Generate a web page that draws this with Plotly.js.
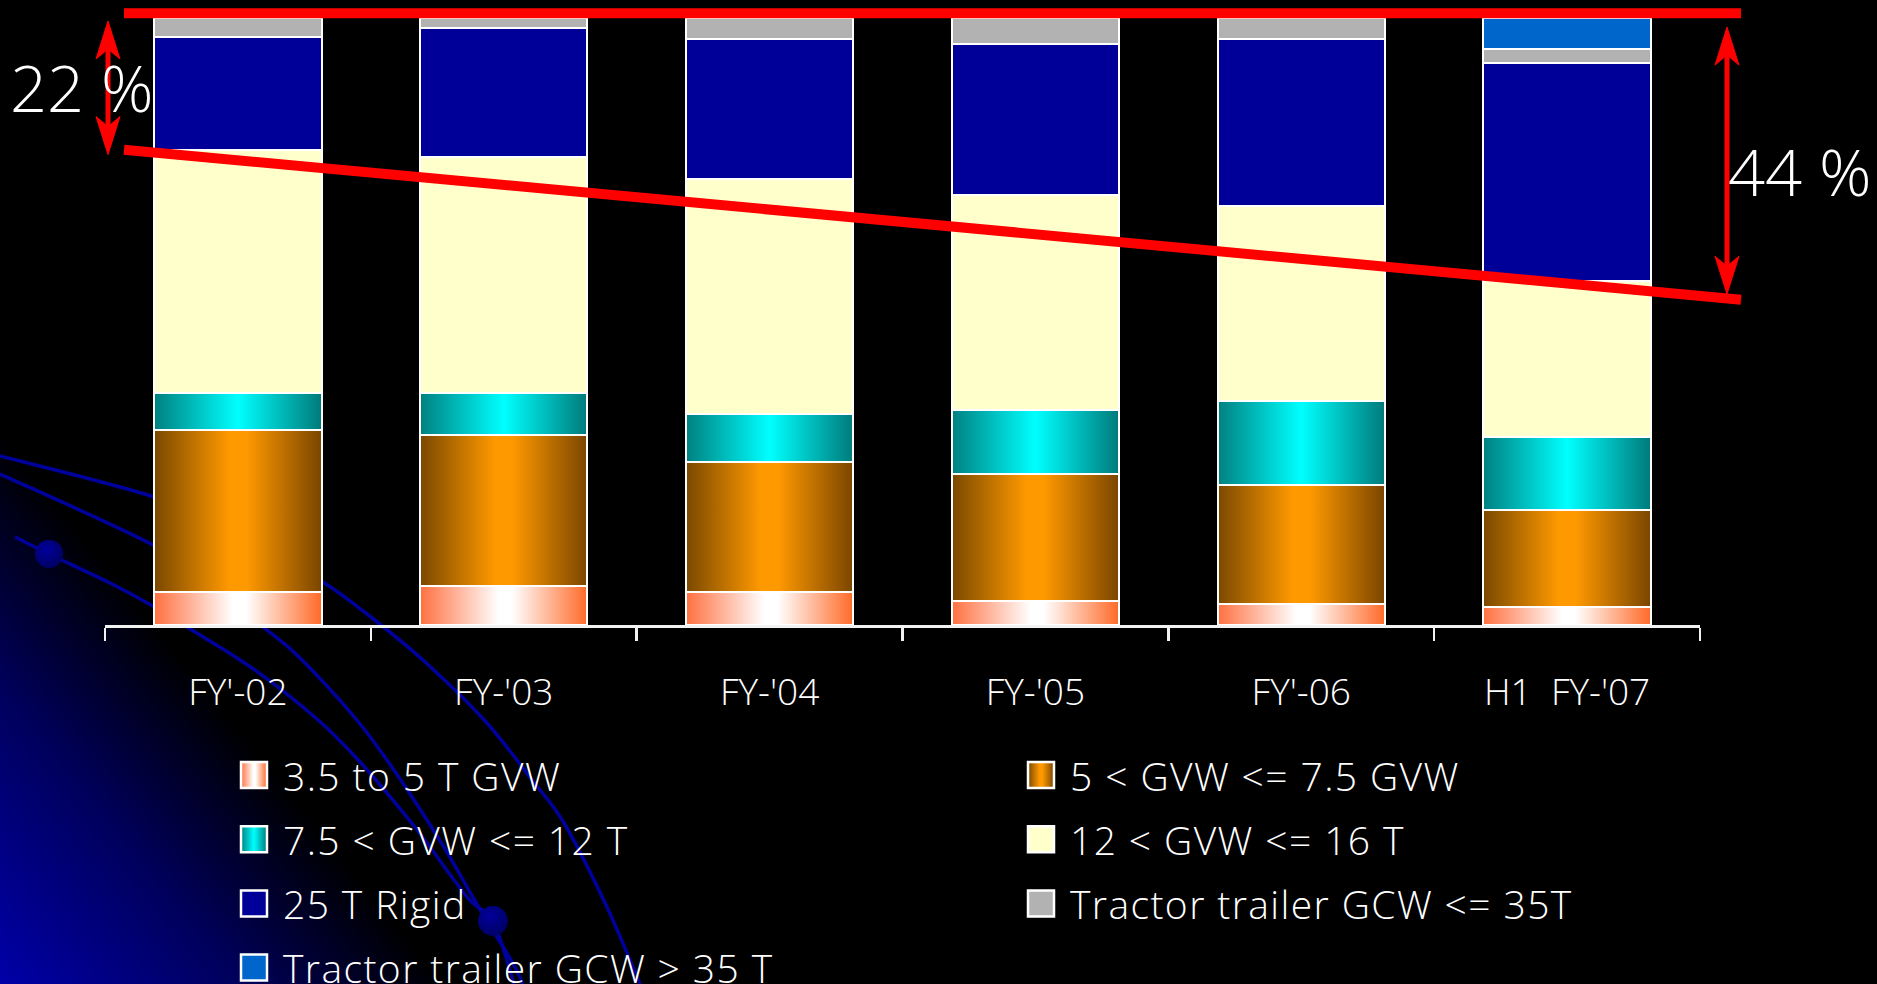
<!DOCTYPE html>
<html>
<head>
<meta charset="utf-8">
<script src="https://cdn.plot.ly/plotly-3.0.1.min.js"></script>
<style>
  html, body { margin: 0; padding: 0; background: #000; overflow: hidden; }
  #stage { position: relative; width: 1877px; height: 984px; }
  #backdrop { position: absolute; left: 0; top: 0; }
  #chart { position: absolute; left: 0; top: 0; width: 1877px; height: 984px; }
</style>
</head>
<body>
<div id="stage">
  <svg id="backdrop" width="1877" height="984" xmlns="http://www.w3.org/2000/svg">
    <defs>
      <linearGradient id="cornerGlow" gradientUnits="userSpaceOnUse" x1="0" y1="984" x2="270" y2="766">
        <stop offset="0" stop-color="#0000a8"/>
        <stop offset="0.55" stop-color="#00005a"/>
        <stop offset="1" stop-color="#000000"/>
      </linearGradient>
      <radialGradient id="dotFill" cx="0.4" cy="0.35" r="0.7">
        <stop offset="0" stop-color="#00009c"/>
        <stop offset="1" stop-color="#000060"/>
      </radialGradient>
    </defs>
    <rect width="1877" height="984" fill="url(#cornerGlow)"/>
    <g id="arcs" fill="none" stroke="#00009c" stroke-width="3.5"></g>
    <g id="dots" fill="url(#dotFill)"></g>
  </svg>
  <div id="chart"></div>
</div>
<script>
// ---- data -----------------------------------------------------------
const categories = ["FY'-02", "FY-'03", "FY-'04", "FY-'05", "FY'-06", "H1\u00a0 FY-'07"];

const seriesNames = [
  "3.5 to 5 T GVW",
  "5 < GVW <= 7.5 GVW",
  "7.5 < GVW <= 12 T",
  "12 < GVW <= 16 T",
  "25 T Rigid",
  "Tractor trailer GCW <= 35T",
  "Tractor trailer GCW > 35 T"
];

// share of sales, % of each year's total
const gvw35to5     = [5.5, 6.4, 5.5, 3.9, 3.5, 3.0];
const gvw5to75     = [26.6, 24.9, 21.4, 20.9, 19.6, 16.0];
const gvw75to12    = [6.1, 6.9, 7.8, 10.7, 13.8, 12.0];
const gvw12to16    = [40.1, 38.9, 38.8, 35.3, 32.2, 25.6];
const rigid25      = [18.6, 21.2, 23.1, 24.9, 27.4, 36.0];
const tractorLe35  = [3.1, 1.7, 3.4, 4.3, 3.5, 2.3];
const tractorGt35  = [0, 0, 0, 0, 0, 5.1];

// heavy-segment share called out on the left and right
const shareLabels = ["22 %", "44 %"];
const shareValues = [22, 44];

// ---- styling ----------------------------------------------------------
const seriesValues = [gvw35to5, gvw5to75, gvw75to12, gvw12to16, rigid25, tractorLe35, tractorGt35];
const fills = [
  { solid: '#FF8050', stops: [[0, '#FF7040'], [0.47, '#FFFFFF'], [0.55, '#FFFFFF'], [1, '#FF6A28']] },
  { solid: '#FF9900', stops: [[0, '#7A4800'], [0.45, '#FF9900'], [0.55, '#FF9900'], [1, '#7A4500']] },
  { solid: '#00FFFF', stops: [[0, '#008080'], [0.5, '#00FFFF'], [1, '#007A7A']] },
  { solid: '#FFFFCC' },
  { solid: '#000099' },
  { solid: '#B2B2B2' },
  { solid: '#0066CC' }
];

const FONT = '"Open Sans", "Liberation Sans", Arial, sans-serif';
const W = 1877, H = 984;
const M = { l: 105, r: 177, t: 18, b: 359 };
const PW = W - M.l - M.r;   // plot width in px
const PH = H - M.t - M.b;   // plot height in px
const Y_RANGE = [0, 100];

// pixel helpers for page decorations (paper coordinates)
const px2x = px => (px - M.l) / PW;
const px2y = py => (H - M.b - py) / PH;
const val2y = v => (v - Y_RANGE[0]) / (Y_RANGE[1] - Y_RANGE[0]);

// ---- traces -----------------------------------------------------------
const traces = seriesValues.map((vals, i) => ({
  type: 'bar',
  name: seriesNames[i],
  x: categories,
  y: vals,
  marker: { color: fills[i].solid, line: { color: '#FFFFFF', width: 2 } },
  hoverinfo: 'skip',
  showlegend: false
}));

// ---- red guide lines and arrows --------------------------------------
const RED = '#FF0000';
const shapes = [];

shapes.push({ type: 'line', xref: 'paper', yref: 'paper',
  x0: px2x(124), x1: px2x(1741), y0: val2y(100.8), y1: val2y(100.8),
  line: { color: RED, width: 10 } });

shapes.push({ type: 'line', xref: 'paper', yref: 'paper',
  x0: px2x(124), x1: px2x(1741), y0: val2y(100 - shareValues[0] + 0.3), y1: val2y(100 - shareValues[1] - 2.4),
  line: { color: RED, width: 10 } });

function doubleArrow(xPx, vTop, vBot) {
  const x = px2x(xPx);
  const yT = val2y(vTop), yB = val2y(vBot);
  const hw = 12 / PW, hl = 38 / PH, notch = 28 / PH;
  shapes.push({ type: 'line', xref: 'paper', yref: 'paper',
    x0: x, x1: x, y0: yT - notch, y1: yB + notch, line: { color: RED, width: 5 } });
  const head = (tip, dir) =>
    `M${x},${tip} L${x + hw},${tip - dir * hl} L${x},${tip - dir * notch} L${x - hw},${tip - dir * hl} Z`;
  [head(yT, 1), head(yB, -1)].forEach(p => shapes.push({
    type: 'path', xref: 'paper', yref: 'paper', path: p,
    fillcolor: RED, line: { color: RED, width: 1 } }));
}
doubleArrow(108, 99.5, 99.5 - shareValues[0]);
doubleArrow(1727, 98.5, 98.5 - shareValues[1]);

// ---- legend (two columns, filled row by row) ------------------------
const annotations = [];
const swatchShape = {};
const esc = s => s.replace(/&/g, '&amp;').replace(/</g, '&lt;').replace(/>/g, '&gt;');
seriesNames.forEach((name, i) => {
  const col = i % 2, row = Math.floor(i / 2);
  const sx = col === 0 ? 254 : 1041;
  const tx = col === 0 ? 281 : 1068;
  const cy = 775 + row * 64.2;
  swatchShape[i] = shapes.length;
  shapes.push({ type: 'rect', xref: 'paper', yref: 'paper',
    x0: px2x(sx - 13), x1: px2x(sx + 13), y0: px2y(cy + 13), y1: px2y(cy - 13),
    fillcolor: fills[i].solid, line: { color: '#FFFFFF', width: 2.5 } });
  annotations.push({ xref: 'paper', yref: 'paper', x: px2x(tx), y: px2y(cy),
    xanchor: 'left', yanchor: 'middle', showarrow: false, text: esc(name),
    font: { family: FONT, size: 39, color: '#FFFFFF', weight: 300 } });
});
const LEGEND_COUNT = seriesNames.length;

annotations.push({ xref: 'paper', yref: 'paper', x: px2x(8), y: px2y(87),
  xanchor: 'left', yanchor: 'middle', showarrow: false, text: shareLabels[0],
  font: { family: FONT, size: 65, color: '#FFFFFF', weight: 300 } });
annotations.push({ xref: 'paper', yref: 'paper', x: px2x(1726), y: px2y(171),
  xanchor: 'left', yanchor: 'middle', showarrow: false, text: shareLabels[1],
  font: { family: FONT, size: 65, color: '#FFFFFF', weight: 300 } });

const layout = {
  width: W, height: H,
  margin: { l: M.l, r: M.r, t: M.t, b: M.b, pad: 0 },
  paper_bgcolor: 'rgba(0,0,0,0)', plot_bgcolor: 'rgba(0,0,0,0)',
  barmode: 'stack', bargap: 0.37, showlegend: false,
  font: { family: FONT, color: '#FFFFFF', size: 37, weight: 300 },
  xaxis: {
    type: 'category', range: [-0.5, categories.length - 0.5],
    showgrid: false, zeroline: false,
    showline: true, linecolor: '#F2F2F2', linewidth: 3,
    ticks: 'outside', tickson: 'boundaries', ticklen: 13, tickwidth: 2.5, tickcolor: '#F2F2F2',
    tickfont: { family: FONT, size: 37, color: '#FFFFFF', weight: 300 },
    ticklabelstandoff: 33, fixedrange: true
  },
  yaxis: { range: Y_RANGE, visible: false, fixedrange: true },
  shapes: shapes,
  annotations: annotations
};

// ---- background arcs and dots ----------------------------------------
function smoothPath(pts) {
  let d = `M${pts[0][0]},${pts[0][1]}`;
  for (let i = 0; i < pts.length - 1; i++) {
    const p0 = pts[i - 1] || pts[i], p1 = pts[i], p2 = pts[i + 1], p3 = pts[i + 2] || p2;
    const c1 = [p1[0] + (p2[0] - p0[0]) / 6, p1[1] + (p2[1] - p0[1]) / 6];
    const c2 = [p2[0] - (p3[0] - p1[0]) / 6, p2[1] - (p3[1] - p1[1]) / 6];
    d += ` C${c1[0]},${c1[1]} ${c2[0]},${c2[1]} ${p2[0]},${p2[1]}`;
  }
  return d;
}
const NS = 'http://www.w3.org/2000/svg';
const arcLines = [
  [[0, 456], [151, 496], [240, 532], [320, 580], [367, 614], [424, 661], [486, 722], [532, 780], [564, 823], [606, 905], [640, 984]],
  [[0, 474], [151, 544], [210, 585], [263, 627], [299, 657], [356, 719], [396, 773], [442, 844], [478, 906], [511, 960], [523, 984]],
  [[15, 537], [49, 554], [108, 582], [151, 605], [187, 627], [252, 668], [317, 719], [360, 762], [414, 826], [468, 898], [493, 921], [514, 984]]
];
const arcG = document.getElementById('arcs');
arcLines.forEach(pts => {
  const p = document.createElementNS(NS, 'path');
  p.setAttribute('d', smoothPath(pts));
  arcG.appendChild(p);
});
const dotG = document.getElementById('dots');
[[49, 554, 14], [493, 921, 15]].forEach(([cx, cy, r]) => {
  const c = document.createElementNS(NS, 'circle');
  c.setAttribute('cx', cx); c.setAttribute('cy', cy); c.setAttribute('r', r);
  dotG.appendChild(c);
});

// ---- render, then give the shaded segments their horizontal gradients --
const gd = document.getElementById('chart');
Plotly.newPlot(gd, traces, layout, { staticPlot: true }).then(() => {
  const defs = gd.querySelector('svg.main-svg defs');
  fills.forEach((f, i) => {
    if (!f.stops) return;
    const g = document.createElementNS(NS, 'linearGradient');
    g.setAttribute('id', 'segGrad' + i);
    g.setAttribute('x1', '0'); g.setAttribute('x2', '1');
    g.setAttribute('y1', '0'); g.setAttribute('y2', '0');
    f.stops.forEach(([o, c]) => {
      const s = document.createElementNS(NS, 'stop');
      s.setAttribute('offset', o); s.setAttribute('stop-color', c);
      g.appendChild(s);
    });
    defs.appendChild(g);
  });
  gd.querySelectorAll('.barlayer .trace').forEach((tr, i) => {
    if (!fills[i] || !fills[i].stops) return;
    tr.querySelectorAll('path').forEach(p => { p.style.fill = `url(#segGrad${i})`; });
  });
  Object.keys(swatchShape).forEach(i => {
    if (!fills[i].stops) return;
    gd.querySelectorAll(`.shapelayer path[data-index="${swatchShape[i]}"]`)
      .forEach(p => { p.style.fill = `url(#segGrad${i})`; });
  });
  // the legend lettering is set a little wider, like the slide's geometric face;
  // keep each label's left edge where the layout put it
  for (let k = 0; k < LEGEND_COUNT; k++) {
    gd.querySelectorAll(`.annotation[data-index="${k}"] text.annotation-text`).forEach(t => {
      const left = t.getBBox().x;
      t.style.letterSpacing = '1.4px';
      t.setAttribute('text-anchor', 'start');
      t.setAttribute('x', left);
      t.querySelectorAll('tspan[x]').forEach(s => s.setAttribute('x', left));
    });
  }
});
</script>
</body>
</html>
